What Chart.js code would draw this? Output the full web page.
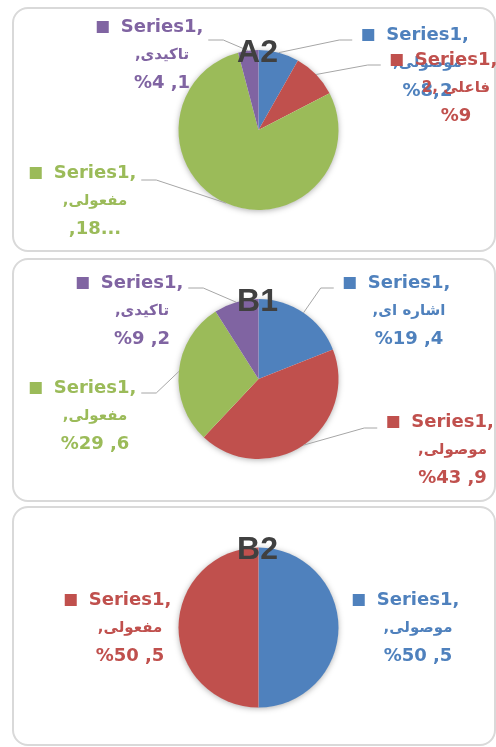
<!DOCTYPE html>
<html>
<head>
<meta charset="utf-8">
<script src="https://cdn.jsdelivr.net/npm/chart.js@4"></script>
<style>
    body { margin: 0; background: #fff; width: 496px; height: 747px; overflow: hidden; position: relative; }
    .panel { position: absolute; left: 12px; width: 484px; box-sizing: border-box; border: 2px solid #d9d9d9; border-radius: 16px; background: #fff; }
    canvas { position: absolute; left: 0; }
</style>
</head>
<body>
<div class="panel" style="top:7px;height:245px"></div>
<div class="panel" style="top:258px;height:244px"></div>
<div class="panel" style="top:506px;height:240px"></div>
<canvas id="chartA2" width="496" height="245" style="top:7px"></canvas>
<canvas id="chartB1" width="496" height="244" style="top:258px"></canvas>
<canvas id="chartB2" width="496" height="240" style="top:506px"></canvas>
<script>
// データ
const seriesName = 'Series1,';
const sliceColors = ['#4f81bd', '#c0504d', '#9bbb59', '#8064a2'];

const a2Categories = ['موصولی', 'فاعلی', 'مفعولی', 'تاکیدی'];
const a2Values = [8.2, 9.2, 78.5, 4.1];
const a2ValueText = ['%8,2', '%9', ',18...', '%4 ,1'];

const b1Categories = ['اشاره ای', 'موصولی', 'مفعولی', 'تاکیدی'];
const b1Values = [19.4, 43.9, 29.6, 9.2];
const b1ValueText = ['%19 ,4', '%43 ,9', '%29 ,6', '%9 ,2'];

const b2Categories = ['موصولی', 'مفعولی'];
const b2Values = [50.5, 50.5];
const b2ValueText = ['%50 ,5', '%50 ,5'];

// 2行目のテキスト（アラビア文字＋カンマ）
const a2Line2 = a2Categories.map(c => ',' + c);
a2Line2[1] = '2, ' + a2Categories[1]; // 元図では重なって崩れている
const b1Line2 = b1Categories.map(c => ',' + c);
const b2Line2 = b2Categories.map(c => ',' + c);

// ラベル位置（円の中心からのずれ: x, 1行目のy, 引き出し線のy）
const a2LabelPos = [[169, -95, 5], [197.5, -70, 5], [-163.5, 43, 7], [-96.5, -103, 13]];
const b1LabelPos = [[150.5, -96, 5], [194, 43, 6], [-163.5, 9, 5], [-116.5, -96, 5]];
const b2LabelPos = [[159.5, -27.5, 5], [-128.5, -27.5, 5]];

const LINE_H = 28;
const LRM = '\u200E';

// ラベルと引き出し線を描くプラグイン
const sliceLabels = {
    id: 'sliceLabels',
    beforeDatasetsDraw(chart) {
        const arc = chart.getDatasetMeta(0).data[0];
        const ctx = chart.ctx;
        ctx.save();
        ctx.shadowColor = 'rgba(0,0,0,0.35)';
        ctx.shadowBlur = 6;
        ctx.shadowOffsetY = 1;
        ctx.fillStyle = '#fff';
        ctx.beginPath();
        ctx.arc(arc.x, arc.y, arc.outerRadius - 0.5, 0, Math.PI * 2);
        ctx.fill();
        ctx.restore();
    },
    afterDatasetsDraw(chart, args, opts) {
        const ctx = chart.ctx;
        const meta = chart.getDatasetMeta(0);
        const ds = chart.data.datasets[0];
        ctx.save();
        ctx.direction = 'ltr';
        meta.data.forEach((arc, i) => {
            const mid = (arc.startAngle + arc.endAngle) / 2;
            const color = ds.backgroundColor[i];
            const p = opts.pos[i];
            const lx = arc.x + p[0];
            const ly = arc.y + p[1];
            const lines = [seriesName, opts.line2[i], LRM + opts.texts[i] + LRM];

            ctx.font = 'bold 18px "DejaVu Sans"';
            const w1 = ctx.measureText(lines[0]).width;

            // 引き出し線
            if (opts.leaders) {
                const ax = arc.x + Math.cos(mid) * arc.outerRadius;
                const ay = arc.y + Math.sin(mid) * arc.outerRadius;
                const right = p[0] > 0;
                const ey = ly + p[2];
                const ex = right ? lx - w1 / 2 - 24 - 10 : lx + w1 / 2 + 5;
                const bx = right ? ex - 13 : ex + 15;
                ctx.strokeStyle = '#a6a6a6';
                ctx.lineWidth = 1;
                ctx.beginPath();
                ctx.moveTo(ax, ay);
                ctx.lineTo(bx, ey);
                ctx.lineTo(ex, ey);
                ctx.stroke();
            }

            ctx.fillStyle = color;
            ctx.textAlign = 'center';
            ctx.textBaseline = 'middle';
            lines.forEach((t, k) => {
                ctx.font = k === 1 ? 'bold 15px "DejaVu Sans"' : 'bold 18px "DejaVu Sans"';
                ctx.fillText(t, lx, ly + k * LINE_H);
            });
            // 凡例の四角
            ctx.fillRect(lx - w1 / 2 - 24, ly - 6, 12, 12);
        });

        // タイトル（円に重ねる）
        const arc0 = meta.data[0];
        ctx.font = 'bold 32px "Liberation Sans"';
        ctx.fillStyle = '#404040';
        ctx.textAlign = 'center';
        ctx.textBaseline = 'middle';
        ctx.fillText(chart.options.plugins.title.text, arc0.x - 1, arc0.y - arc0.outerRadius + 3);
        ctx.restore();
    }
};

function makePie(id, title, categories, values, line2, texts, pos, padding, leaders) {
    return new Chart(document.getElementById(id), {
        type: 'pie',
        data: {
            labels: categories,
            datasets: [{
                data: values,
                backgroundColor: sliceColors.slice(0, values.length),
                borderWidth: 0
            }]
        },
        options: {
            responsive: false,
            animation: false,
            layout: { padding: padding },
            plugins: {
                legend: { display: false },
                tooltip: { enabled: false },
                title: { display: false, text: title },
                sliceLabels: { pos: pos, line2: line2, texts: texts, leaders: leaders }
            }
        },
        plugins: [sliceLabels]
    });
}

makePie('chartA2', 'A2', a2Categories, a2Values, a2Line2, a2ValueText, a2LabelPos,
    { left: 178.5, right: 157.5, top: 43, bottom: 42 }, true);
makePie('chartB1', 'B1', b1Categories, b1Values, b1Line2, b1ValueText, b1LabelPos,
    { left: 178.5, right: 157.5, top: 41, bottom: 43 }, true);
makePie('chartB2', 'B2', b2Categories, b2Values, b2Line2, b2ValueText, b2LabelPos,
    { left: 178.5, right: 157.5, top: 41.5, bottom: 38.5 }, false);
</script>
</body>
</html>
